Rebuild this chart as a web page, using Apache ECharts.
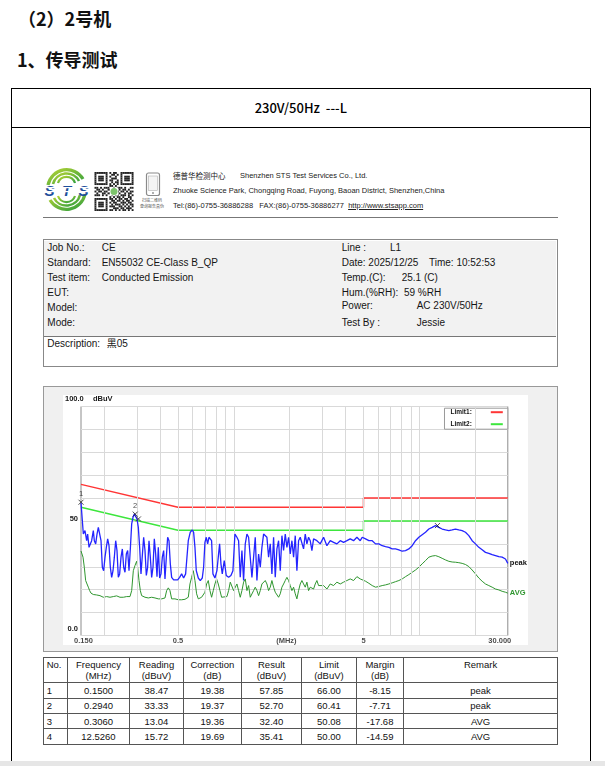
<!DOCTYPE html>
<html><head><meta charset="utf-8">
<script src="https://cdn.jsdelivr.net/npm/echarts@6.0.0/dist/echarts.min.js"></script>
<style>
html,body{margin:0;padding:0;background:#fff;}
body{width:605px;height:766px;position:relative;overflow:hidden;font-family:"Liberation Sans",Arial,"Noto Sans CJK SC",sans-serif;color:#111;}
.a{position:absolute;white-space:nowrap;}
.cjk{font-family:"Noto Sans CJK SC",sans-serif;}
.r{position:absolute;white-space:nowrap;font-size:10px;line-height:12px;color:#151515;}
.h{position:absolute;white-space:nowrap;font-size:7.5px;line-height:9px;color:#222;}
table.d{position:absolute;left:42.7px;top:657.3px;width:514.5px;border-collapse:collapse;table-layout:fixed;font-size:9.5px;color:#111;border:1.5px solid #555;}
table.d td{border:1px solid #555;padding:0;text-align:center;overflow:hidden;white-space:nowrap;}
table.d tr.hd td{height:23px;vertical-align:top;line-height:11px;padding-top:1px;}
table.d tr.rw td{height:14.4px;line-height:13px;vertical-align:middle;}
table.d td.no{text-align:left;padding-left:3px;}
</style></head>
<body>
<div class="a cjk" style="left:18px;top:6px;font-size:18px;line-height:24px;font-weight:bold;">（2）2号机</div>
<div class="a cjk" style="left:17px;top:47px;font-size:18px;line-height:24px;font-weight:bold;">1、传导测试</div>

<div class="a" style="left:10.8px;top:88.3px;width:580px;height:700px;box-sizing:border-box;border:1.5px solid #000;border-bottom:none;"></div>
<div class="a" style="left:10.8px;top:126.5px;width:580px;height:0;border-top:1.5px solid #000;"></div>
<div class="a cjk" style="left:10.8px;top:99px;width:580px;text-align:center;font-size:13px;line-height:17px;color:#000;font-weight:500;">230V/50Hz&nbsp;&nbsp;---L</div>

<!-- report header -->
<svg class="a" style="left:42px;top:168px" width="49" height="43" viewBox="0 0 49 43">
  <defs><linearGradient id="g1" x1="0" y1="0" x2="1" y2="1"><stop offset="0" stop-color="#b5d334"/><stop offset="1" stop-color="#2e9e3e"/></linearGradient></defs>
  <path d="M6,17 A19,19 0 0 1 41,11" fill="none" stroke="url(#g1)" stroke-width="3.2"/>
  <path d="M11,16 A14,14 0 0 1 37,13" fill="none" stroke="url(#g1)" stroke-width="2.6"/>
  <path d="M16,15 A9,9 0 0 1 33,15" fill="none" stroke="url(#g1)" stroke-width="2.2"/>
  <path d="M43,26 A19,19 0 0 1 8,32" fill="none" stroke="url(#g1)" stroke-width="3.2"/>
  <path d="M38,27 A14,14 0 0 1 12,30" fill="none" stroke="url(#g1)" stroke-width="2.6"/>
  <path d="M33,28 A9,9 0 0 1 16,28" fill="none" stroke="url(#g1)" stroke-width="2.2"/>
  <text x="24.5" y="27.5" text-anchor="middle" font-family="Liberation Sans" font-weight="bold" font-style="italic" font-size="15" fill="#1d4f9c" textLength="44">STS</text>
  <rect x="0" y="19" width="49" height="1.2" fill="#fff"/>
  <rect x="0" y="23" width="49" height="1.2" fill="#fff"/>
</svg>
<svg id="qr" class="a" style="left:94px;top:172px" width="40" height="39" viewBox="0 0 21 21"></svg>
<svg class="a" style="left:145px;top:172px" width="16" height="25" viewBox="0 0 16 25">
  <rect x="1.5" y="1" width="13" height="22.5" rx="2" fill="#fff" stroke="#8a8a8a" stroke-width="1.2"/>
  <rect x="3.5" y="4" width="9" height="14.5" fill="#f4f4f4" stroke="#b0b0b0" stroke-width="0.6"/>
  <circle cx="8" cy="21" r="0.9" fill="#8a8a8a"/>
</svg>
<div class="a cjk" style="left:142px;top:197.5px;font-size:4px;line-height:5px;color:#555;">扫描二维码</div>
<div class="a cjk" style="left:140px;top:203.5px;font-size:4px;line-height:5px;color:#555;">查询报告真伪</div>

<div class="h cjk" style="left:173px;top:170.5px;">德普华检测中心</div>
<div class="h" style="left:240px;top:170.5px;">Shenzhen STS Test Services Co., Ltd.</div>
<div class="h" style="left:173px;top:185.5px;">Zhuoke Science Park, Chongqing Road, Fuyong, Baoan District, Shenzhen,China</div>
<div class="h" style="left:173px;top:200.5px;">Tel:(86)-0755-36886288&nbsp;&nbsp;&nbsp;FAX:(86)-0755-36886277&nbsp;&nbsp;<span style="text-decoration:underline;">http://www.stsapp.com</span></div>
<div class="a" style="left:42.7px;top:216.5px;width:515px;height:0;border-top:1.5px solid #777;"></div>

<!-- info box -->
<div class="a" style="left:42.7px;top:239px;width:515px;height:128px;box-sizing:border-box;border:1.5px solid #888;background:#fff;"></div>
<div class="a" style="left:44.2px;top:240.5px;width:512px;height:95.5px;background:#f2f2f2;border-bottom:1.5px solid #777;"></div>
<div class="r" style="left:47.3px;top:242.3px;">Job No.:</div>
<div class="r" style="left:101.7px;top:242.3px;">CE</div>
<div class="r" style="left:47.3px;top:256.7px;">Standard:</div>
<div class="r" style="left:101.7px;top:256.7px;">EN55032 CE-Class B_QP</div>
<div class="r" style="left:47.3px;top:271.7px;">Test item:</div>
<div class="r" style="left:101.7px;top:271.7px;">Conducted Emission</div>
<div class="r" style="left:47.3px;top:287.3px;">EUT:</div>
<div class="r" style="left:47.3px;top:302.3px;">Model:</div>
<div class="r" style="left:47.3px;top:317.3px;">Mode:</div>
<div class="r" style="left:341.7px;top:242.3px;">Line :</div>
<div class="r" style="left:390px;top:242.3px;">L1</div>
<div class="r" style="left:341.7px;top:256.7px;">Date: 2025/12/25</div>
<div class="r" style="left:429px;top:256.7px;">Time: 10:52:53</div>
<div class="r" style="left:341.7px;top:271.7px;">Temp.(C):</div>
<div class="r" style="left:401.7px;top:271.7px;">25.1 (C)</div>
<div class="r" style="left:341.7px;top:287.3px;">Hum.(%RH):&nbsp; 59 %RH</div>
<div class="r" style="left:341.7px;top:299.7px;">Power:</div>
<div class="r" style="left:416.7px;top:299.7px;">AC 230V/50Hz</div>
<div class="r" style="left:341.7px;top:317.3px;">Test By :</div>
<div class="r" style="left:416.7px;top:317.3px;">Jessie</div>
<div class="r" style="left:47.3px;top:338px;">Description:</div>
<div class="r" style="left:106.7px;top:338px;">黑05</div>

<!-- chart frame -->
<div class="a" style="left:42.7px;top:385.5px;width:515px;height:266px;box-sizing:border-box;border:1.5px solid #999;background:#f0f0f0;"></div>
<div class="a" style="left:63px;top:395px;width:464.7px;height:250px;background:#fff;"></div>
<div id="chart" class="a" style="left:42.7px;top:385.5px;width:515px;height:266px;"></div>

<table class="d" id="tbl">
<colgroup><col style="width:24px"><col style="width:62.6px"><col style="width:53.4px"><col style="width:58.3px"><col style="width:60px"><col style="width:55px"><col style="width:47px"><col style="width:154.2px"></colgroup>
<tbody id="tb"></tbody>
</table>

<div class="a" style="left:0;top:761px;width:605px;height:5px;background:#e6e6e6;"></div>

<script>
// ---------- chart data ----------
const peakFreq = [
 0.150,0.1544,0.1576,0.1609,0.1629,0.1657,0.1684,0.1712,0.1748,0.1770,0.1800,0.1830,0.1860,0.1891,0.1923,0.1955,0.1987,0.2021,0.2054,0.2089,
 0.2124,0.2159,0.2195,0.2232,0.2269,0.2307,0.2345,0.2384,0.2424,0.2465,0.2506,0.2548,0.2590,0.2633,0.2677,0.2722,0.2767,0.2814,0.2861,0.2908,
 0.2957,0.3006,0.3056,0.3107,0.3159,0.3212,0.3265,0.3320,0.3375,0.3431,0.3489,0.3547,0.3606,0.3666,0.3727,0.3790,0.3853,0.3917,0.3982,0.4049,
 0.4116,0.4185,0.4255,0.4326,0.4398,0.4472,0.4546,0.4622,0.4738,0.4857,0.4979,0.5103,0.5232,0.5363,0.5497,0.5589,0.5682,0.5825,0.5971,0.6071,
 0.6172,0.6275,0.6433,0.6594,0.6760,0.6873,0.6987,0.7104,0.7223,0.7343,0.7466,0.7590,0.7717,0.7911,0.8109,0.8244,0.8382,0.8522,0.8664,
 0.8882,0.9105,0.9373,0.9648,0.9890,1.0139,1.0393,1.0610,1.0832,1.1059,1.1290,1.1526,1.1767,1.2013,1.2264,1.2520,1.2782,1.3049,1.3322,1.3601,
 1.3885,1.4175,1.4472,1.4774,1.5081,1.5396,1.5718,1.6047,1.6383,1.6725,1.7075,1.7432,1.7797,1.8169,1.8549,1.8936,1.9332,1.9737,2.0149,2.0570,
 2.1000,2.1439,2.1882,2.2341,2.2807,2.3284,2.3771,2.4268,2.4775,2.5293,2.5822,2.6362,2.6913,2.8050,2.9235,3.0471,3.1758,3.3100,3.4499,3.5955,
 3.7476,3.9059,4.0709,4.2429,4.4220,4.6088,4.8038,
 4.924,5.130,5.347,5.573,5.808,6.053,6.309,6.575,6.853,7.142,7.444,7.758,8.086,8.427,8.783,9.154,9.540,9.943,10.363,10.800,
 11.256,11.732,12.227,12.744,13.282,13.842,14.427,15.037,15.672,16.334,17.024,17.742,18.492,19.272,20.086,20.934,21.819,22.740,23.700,24.701,
 25.744,26.831,27.964,29.145,30.0];
const peakLevel = [
 58.0,44.3,45.8,41.4,44.3,38.5,37.8,41.4,45.8,41.4,40.0,44.3,47.2,48.0,41.4,29.8,28.3,34.2,38.5,42.2,
 39.2,29.8,25.4,28.3,34.2,41.4,37.1,25.4,26.9,34.2,37.8,29.8,27.6,35.6,37.1,28.3,37.8,48.7,51.6,53.1,
 52.3,50.9,47.2,38.5,26.9,26.2,42.9,37.1,26.2,29.8,41.4,34.2,25.4,29.8,42.2,35.6,25.7,38.5,25.1,26.9,
 34.2,37.1,24.7,34.2,42.9,41.4,31.3,25.4,24.3,25.1,24.3,25.4,26.9,25.1,26.9,34.2,41.4,45.1,46.1,45.1,
 38.5,28.3,25.1,24.0,25.1,29.8,40.7,42.9,40.0,42.9,43.6,41.4,26.9,25.1,28.3,34.2,40.0,31.3,26.9,
 32.7,26.2,25.4,26.2,28.3,44.3,42.9,41.4,25.4,37.1,24.0,40.0,44.3,42.9,34.2,25.4,34.2,42.9,24.0,35.6,
 29.8,38.5,44.3,45.1,42.9,34.2,40.0,26.9,42.9,25.4,37.8,41.4,28.3,43.6,37.1,44.3,38.5,42.9,35.6,41.4,
 34.2,43.6,28.3,41.4,42.9,42.2,37.8,44.3,40.0,42.9,41.4,37.1,42.2,41.4,40.0,42.9,39.2,41.4,40.7,40.0,
 41.4,40.7,41.4,42.2,41.4,42.9,41.4,
 42.9,42.2,41.4,41.4,40.0,40.0,39.2,38.8,38.5,37.8,37.8,37.4,36.8,37.1,37.8,39.2,41.4,42.9,44.0,45.1,
 46.5,47.2,48.0,47.2,46.5,46.1,45.8,46.1,46.5,46.1,45.8,45.1,43.6,41.4,40.0,38.5,37.4,36.3,35.9,35.3,
 34.9,34.4,34.2,33.4,31.5];
const avgFreq = [
 0.150,0.1512,0.1538,0.1563,0.1589,0.1616,0.1643,0.1670,0.1698,0.1748,0.1822,0.1899,0.1979,0.2063,0.2150,0.2241,0.2335,0.2434,0.2537,0.2644,
 0.2756,0.2814,0.2872,0.2931,0.2993,0.3030,0.3082,0.3133,0.3185,0.3320,0.3460,0.3606,0.3758,0.3917,0.4083,0.4255,0.4344,0.4434,0.4527,0.4622,
 0.4816,0.5020,0.5232,0.5452,0.5682,0.5801,0.5922,0.6046,0.6172,0.6301,0.6433,0.6704,0.6987,0.7134,0.7283,0.7435,0.7590,0.7749,0.7911,0.8076,
 0.8244,0.8417,0.8593,
 0.8809,0.9181,0.9373,0.9569,0.9768,0.9972,1.0393,1.0610,1.0832,1.1059,1.1290,1.1526,1.1767,1.2013,1.2264,1.2520,1.2782,1.3049,1.3322,1.3601,
 1.3885,1.4175,1.4472,1.4774,1.5081,1.5396,1.5718,1.6047,1.6383,1.6725,1.7075,1.7432,1.7797,1.8169,1.8549,1.8936,1.9332,1.9737,2.0149,2.0570,
 2.1000,2.1439,2.1882,2.2341,2.2807,2.3284,2.3771,2.4268,2.4775,2.5293,2.5822,2.6362,2.6913,2.7476,2.8050,2.8638,2.9235,3.0471,3.1758,3.3100,
 3.4499,3.5955,3.7476,3.9059,4.0709,4.2429,4.4220,4.6088,4.8038,
 4.924,5.130,5.347,5.573,5.808,6.053,6.309,6.575,6.853,7.142,7.444,7.758,8.086,8.427,8.783,9.154,9.540,9.943,10.363,10.800,
 11.256,11.732,12.227,12.744,13.282,13.842,14.427,15.037,15.672,16.334,17.024,17.742,18.492,19.272,20.086,20.934,21.819,22.740,23.700,24.701,
 25.744,26.831,27.964,29.145,30.0];
const avgLevel = [
 36.9,36.3,34.2,29.8,24.0,22.5,21.1,19.6,18.5,17.9,17.7,17.4,16.7,17.0,16.7,17.0,17.3,16.7,16.7,17.0,
 17.0,19.6,28.3,30.5,32.4,29.8,24.0,19.6,17.4,16.7,16.4,16.7,16.4,16.0,16.0,16.4,19.6,20.8,19.6,16.0,
 16.0,15.6,15.6,15.8,16.7,22.5,25.4,28.3,24.0,18.2,16.0,16.7,18.9,22.5,24.0,19.6,16.7,19.6,22.5,24.7,
 22.5,19.6,16.7,
 16.7,17.0,19.6,23.3,24.0,19.6,22.5,19.6,16.7,19.6,23.3,24.7,19.6,21.8,16.7,16.0,19.6,21.1,19.6,17.4,
 19.6,22.5,21.8,24.0,22.5,19.6,21.1,24.0,21.1,18.9,19.6,16.7,18.2,21.1,22.5,24.0,25.4,24.0,21.8,19.6,
 21.1,18.2,16.0,19.6,22.5,24.0,22.5,21.1,23.3,19.6,21.1,21.8,20.3,22.5,24.0,21.8,21.1,21.8,20.3,22.5,
 21.8,23.3,22.5,23.3,24.0,24.7,24.0,25.7,24.7,
 24.3,23.7,22.8,21.8,21.1,21.4,21.8,22.1,22.5,23.0,23.5,24.0,24.7,25.7,26.6,27.6,28.6,29.8,31.3,32.7,
 34.2,34.7,34.9,34.4,33.7,33.0,32.4,32.1,32.0,31.8,31.5,31.0,30.1,28.6,26.9,25.1,23.7,22.5,21.8,21.1,
 20.3,19.9,19.3,18.9,18.5];
const limit1Freq  = [0.15, 0.5, 5, 5, 30];
const limit1Level = [66, 56, 56, 60, 60];
const limit2Freq  = [0.15, 0.5, 5, 5, 30];
const limit2Level = [56, 46, 46, 50, 50];
const markerFreq  = [0.15, 0.294, 0.306, 12.526];
const markerLevel = [58.2, 53.0, 50.9, 48.0];
const markerNo    = ['1', '2', '', ''];
const gridFreqs   = [0.2,0.3,0.4,0.5,0.6,0.7,0.8,0.9,1,2,3,4,5,6,7,8,9,10,20];
const xTickValues = [0.15, 0.5, 1.92, 5, 30];
const xTickLabels = ['0.150', '0.5', '(MHz)', '5', '30.000'];
const yTickValues = [0, 50];
const yTickLabels = ['0.0', '50'];
const yTopLabel = '100.0';
const yUnit = 'dBuV';
const seriesNames = ['Limit1', 'Limit2', 'peak', 'AVG'];

// ---------- result table ----------
const tableHead = [['No.',''],['Frequency','(MHz)'],['Reading','(dBuV)'],['Correction','(dB)'],['Result','(dBuV)'],['Limit','(dBuV)'],['Margin','(dB)'],['Remark','']];
const tableRows = [
 ['1','0.1500','38.47','19.38','57.85','66.00','-8.15','peak'],
 ['2','0.2940','33.33','19.37','52.70','60.41','-7.71','peak'],
 ['3','0.3060','13.04','19.36','32.40','50.08','-17.68','AVG'],
 ['4','12.5260','15.72','19.69','35.41','50.00','-14.59','AVG']];

(function buildTable(){
  const tb = document.getElementById('tb');
  let h = '<tr class="hd">' + tableHead.map((c,i)=>'<td'+(i===0?' class="no"':'')+'>'+c[0]+(c[1]?'<br>'+c[1]:'')+'</td>').join('') + '</tr>';
  tableRows.forEach(r=>{ h += '<tr class="rw">' + r.map((c,i)=>'<td'+(i===0?' class="no"':'')+'>'+c+'</td>').join('') + '</tr>'; });
  tb.innerHTML = h;
})();

(function buildQR(){
  const rows = [
  '111111101011001111111','100000100110101000001','101110101001001011101','101110100111001011101',
  '101110101100101011101','100000100101101000001','111111101010101111111','000000001101000000000',
  '110101110010111010011','011010011101010110100','101101100110101101011','010011011011010010110',
  '111010100101101110101','000000001010110100110','111111101101011011010','100000100110110101101',
  '101110101011001110110','101110100101110101011','101110101110011010101','100000100011101101110',
  '111111101101010110101'];
  let s = '<rect x="0" y="0" width="21" height="21" fill="#fff"/>';
  rows.forEach((r,y)=>{ for(let x=0;x<r.length;x++){ if(r[x]==='1') s+='<rect x="'+x+'" y="'+y+'" width="1.02" height="1.02" fill="#222"/>'; } });
  s += '<rect x="8.3" y="8.3" width="4.4" height="4.4" fill="#fff"/><circle cx="10.5" cy="10.5" r="1.9" fill="#7cc36b"/>';
  document.getElementById('qr').innerHTML = s;
})();

// ---------- chart ----------
const zip = (a,b) => a.map((v,i)=>[v,b[i]]);
const FONT = '"Liberation Sans", Arial, sans-serif';
const axisFont = {fontFamily: FONT, fontWeight: 'bold', fontSize: 7.5, color: '#1a1a1a'};
const chart = echarts.init(document.getElementById('chart'), null, {renderer: 'canvas'});
const option = {
  animation: false,
  backgroundColor: 'transparent',
  grid: {left: 38, top: 20.5, right: 50.2, bottom: 16.5, show: true, backgroundColor: '#fff', borderColor: '#8c8c8c', borderWidth: 1},
  xAxis: {type: 'log', logBase: 10, min: 0.15, max: 30,
    axisLine: {show: false}, axisTick: {show: false}, axisLabel: {show: false}, splitLine: {show: false}},
  yAxis: {type: 'value', min: 0, max: 100, interval: 10,
    axisLine: {show: false}, axisTick: {show: false},
    splitLine: {show: true, lineStyle: {color: '#d9d9d9', width: 1}},
    axisLabel: {margin: 3, ...axisFont,
      formatter: v => { const i = yTickValues.indexOf(v); return i < 0 ? '' : '{' + (i === 0 ? 'b' : 'a') + '|' + yTickLabels[i] + '}'; },
      rich: {a: {...axisFont, padding: [0,0,5,0]}, b: {...axisFont, padding: [0,0,14,0]}}}},
  legend: {data: seriesNames.slice(0,2), orient: 'vertical', right: 50.2, top: 22.2, align: 'right',
    padding: [0,5,1,6], itemGap: 4, itemWidth: 12, itemHeight: 2, icon: 'rect',
    backgroundColor: '#fff', borderColor: '#9a9a9a', borderWidth: 1, selectedMode: false,
    formatter: n => n + ':',
    textStyle: {fontFamily: FONT, fontWeight: 'bold', fontSize: 6.5, lineHeight: 8, color: '#111', padding: [0,14,0,0]}},
  graphic: [
    {type: 'text', left: 22, top: 9.3, silent: true, style: {text: yTopLabel, font: 'bold 7.5px ' + FONT, fill: '#1a1a1a'}},
    {type: 'text', left: 50, top: 9.3, silent: true, style: {text: yUnit, font: 'bold 7.5px ' + FONT, fill: '#1a1a1a'}}
  ],
  series: [
    {type: 'scatter', name: 'ticks', z: 1, silent: true, symbolSize: 1, itemStyle: {color: 'rgba(0,0,0,0)'},
     data: xTickValues.map((f,i)=>({value: [f, 0], label: {formatter: xTickLabels[i],
        offset: i === 0 ? [2.5, 0] : (i === xTickValues.length - 1 ? [-8, 0] : [0, 0])}})),
     label: {show: true, position: 'bottom', distance: 1, ...axisFont},
     markLine: {silent: true, symbol: ['none','none'], label: {show: false}, animation: false,
       lineStyle: {color: '#d9d9d9', width: 1, type: 'solid'},
       data: gridFreqs.map(v => ({xAxis: v}))}},
    {type: 'line', name: seriesNames[0], z: 3, symbol: 'none', data: zip(limit1Freq, limit1Level),
     lineStyle: {color: '#ff3535', width: 1.5}, itemStyle: {color: '#ff3535'}},
    {type: 'line', name: seriesNames[1], z: 3, symbol: 'none', data: zip(limit2Freq, limit2Level),
     lineStyle: {color: '#3de63d', width: 1.5}, itemStyle: {color: '#3de63d'}},
    {type: 'line', name: seriesNames[3], z: 4, symbol: 'none', data: zip(avgFreq, avgLevel),
     lineStyle: {color: '#2f962f', width: 1}, itemStyle: {color: '#2f962f'},
     endLabel: {show: true, formatter: 'AVG', color: '#2f962f', fontFamily: FONT, fontWeight: 'bold', fontSize: 7.5, distance: 2}},
    {type: 'line', name: seriesNames[2], z: 5, symbol: 'none', data: zip(peakFreq, peakLevel),
     lineStyle: {color: '#2424ff', width: 1.3}, itemStyle: {color: '#2424ff'},
     endLabel: {show: true, formatter: 'peak', color: '#111', fontFamily: FONT, fontWeight: 'bold', fontSize: 7.5, distance: 2}},
    {type: 'scatter', name: 'markers', z: 6, silent: true, clip: false,
     symbol: 'path://M0,0L10,10M10,0L0,10', symbolSize: 5,
     itemStyle: {color: 'rgba(0,0,0,0)', borderColor: '#222', borderWidth: 1},
     data: markerFreq.map((f,i)=>({value: [f, markerLevel[i]], label: {show: markerNo[i] !== '', formatter: markerNo[i]}})),
     label: {position: 'top', distance: 1, fontFamily: FONT, fontSize: 7.5, color: '#222'}}
  ]
};
chart.setOption(option);
</script>
</body></html>
